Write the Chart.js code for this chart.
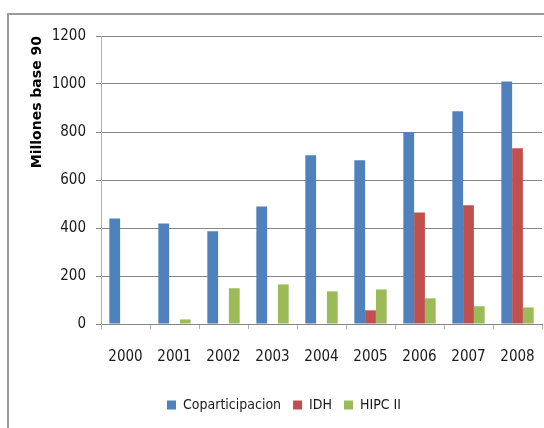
<!DOCTYPE html>
<html>
<head>
<meta charset="utf-8">
<script src="https://cdn.jsdelivr.net/npm/chart.js@4/dist/chart.umd.min.js"></script>
<style>
  html, body { margin: 0; padding: 0; background: #ffffff; overflow: hidden; }
  #wrap { position: relative; width: 544px; height: 428px; }
  #frame { position: absolute; left: 7px; top: 13px; width: 700px; height: 600px;
           border-left: 2px solid #9a9a9a; border-top: 2px solid #9a9a9a; box-sizing: border-box; }
  canvas { position: absolute; left: 0; top: 0; }
</style>
</head>
<body>
<div id="wrap">
  <div id="frame"></div>
  <canvas id="c" width="544" height="428"></canvas>
</div>
<script>
const years = ['2000','2001','2002','2003','2004','2005','2006','2007','2008'];
const coparticipacion = [440, 419, 386, 490, 703, 682, 800, 886, 1010];
const idh = [0, 0, 0, 0, 0, 57, 465, 495, 732];
const hipc = [0, 19, 149, 165, 136, 144, 107, 74, 69];
const seriesNames = ['Coparticipacion', 'IDH', 'HIPC II'];
const seriesColors = ['#4F81BD', '#C0504D', '#9BBB59'];
const yTitle = 'Millones base 90';

const narrow = "'DejaVu Sans Condensed', 'Liberation Sans Narrow', 'Liberation Sans', sans-serif";

new Chart(document.getElementById('c'), {
  type: 'bar',
  data: {
    labels: years,
    datasets: [
      { label: seriesNames[0], data: coparticipacion, backgroundColor: seriesColors[0] },
      { label: seriesNames[1], data: idh, backgroundColor: seriesColors[1] },
      { label: seriesNames[2], data: hipc, backgroundColor: seriesColors[2] }
    ]
  },
  options: {
    responsive: false,
    animation: false,
    devicePixelRatio: 1,
    datasets: { bar: { categoryPercentage: 0.66, barPercentage: 1.0, borderWidth: 0 } },
    layout: { padding: { left: 26, right: 2, top: 36, bottom: 6 } },
    plugins: {
      legend: {
        position: 'bottom',
        labels: {
          boxWidth: 9, boxHeight: 9, padding: 12,
          color: '#1a1a1a',
          font: { family: narrow, size: 14 }
        }
      },
      tooltip: { enabled: false }
    },
    scales: {
      x: {
        afterFit: (s) => { s.height = 62; },
        grid: { offset: true, drawOnChartArea: false, drawTicks: true, tickLength: 5, color: '#b0b0b0' },
        border: { color: '#868686', width: 1 },
        ticks: { padding: 3, color: '#1a1a1a', font: { family: narrow, size: 15, lineHeight: '50px' }, maxRotation: 0 }
      },
      y: {
        min: 0, max: 1200,
        afterFit: (s) => { s.width = 75; },
        ticks: { stepSize: 200, padding: 10, color: '#1a1a1a', font: { family: narrow, size: 15 },
                 callback: (v) => String(v) },
        grid: { color: '#868686', tickLength: 5, lineWidth: 1 },
        border: { color: '#b0b0b0', width: 1 },
        title: {
          display: true, text: yTitle, color: '#000', align: 'end',
          font: { family: "'DejaVu Sans', sans-serif", size: 14, weight: 'bold' },
          padding: { top: 3, bottom: 0 }
        }
      }
    }
  }
});
</script>
</body>
</html>
